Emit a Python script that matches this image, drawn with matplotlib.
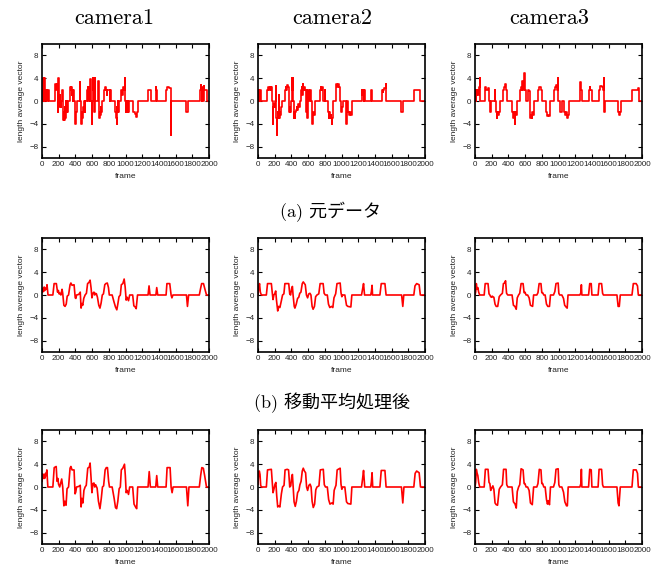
import numpy as np
import matplotlib
matplotlib.use("Agg")
import matplotlib.pyplot as plt

# 元データ (frame, length average vector)
raw_cam1 = [(0, 0), (12, 4), (20, 0), (24, 4), (30, 2), (34, 4), (40, 0), (44, 2), (52, 1), (56, 2), (62, 0), (66, 2), (80, 0),
            (150, 3), (156, 2), (160, 3), (166, 2.5), (170, 2), (176, 3), (180, 2.5), (186, -2), (190, 2), (196, 4), (200, 1),
            (206, -1), (212, 1), (218, 0), (222, -1), (228, 0), (240, 2), (246, -3.3), (252, 0), (256, -3.3), (262, -2),
            (268, -3.3), (274, -1), (280, -3), (286, 0), (290, -2), (296, 0), (300, -2), (306, 0), (340, 2.5), (346, 2),
            (352, 2.5), (358, 1), (362, 2), (370, 0), (374, 2), (386, 0), (398, -4), (404, -2), (410, -2), (416, 0),
            (455, 3.3), (460, 0), (470, -4), (476, -2), (482, -3), (488, -2), (494, -1), (500, -2), (506, 0), (515, -2),
            (520, 0), (540, 2), (548, 2.5), (556, 0), (560, 2), (566, 2.5), (572, 0), (576, 3.8), (582, 2), (590, 0),
            (596, -4), (602, 0), (608, 4), (614, 2), (620, 4), (626, -2), (630, 4), (636, 0), (672, 3.5), (678, -3),
            (684, 0), (688, -3), (694, -2), (700, -2.5), (706, -1), (712, -2), (718, -1), (724, 0), (740, 2), (760, 2.5),
            (770, 2), (778, 1), (782, 2), (800, 2), (812, 0), (818, 2), (830, 0), (870, -2), (876, 0), (880, -2), (888, -3),
            (894, -4), (900, -1), (904, -2), (910, 0), (914, -2), (920, 0), (950, 2), (960, 1), (966, 2), (976, 2.5),
            (982, 2), (990, 4), (996, 0), (1004, -2), (1010, 0), (1016, -2), (1026, 0), (1030, -2), (1036, 0),
            (1094, -2), (1110, -2.3), (1120, -2.8), (1136, -2), (1144, 0), (1272, 2), (1300, 0), (1362, 2.5), (1368, 2),
            (1380, 0), (1480, 2), (1500, 2.4), (1520, 2.2), (1540, 0), (1542, -6), (1548, 0), (1730, -2), (1754, 0),
            (1890, 2), (1900, 2.8), (1906, 2), (1914, 0), (1918, 2.5), (1926, 2), (1932, 0), (1936, 2.7), (1944, 2),
            (1960, 2), (1975, 0), (2000, 0)]
raw_cam2 = [(0, 0), (8, 2), (14, 0), (18, 2), (24, 1), (28, 2), (34, 0), (112, 2), (120, 2.5), (128, 2), (140, 2.5),
            (150, 2), (160, 2.5), (168, 0), (178, -4), (184, -1), (190, -0.5), (196, -1), (204, 0), (210, 2.7), (216, -3),
            (224, -6), (230, -3), (236, -2), (240, -3), (246, 1), (252, -3), (258, -2), (266, -2.5), (274, -2), (280, -1),
            (288, 0), (320, 2), (330, 2.5), (340, 2), (350, 2.8), (360, 2.5), (368, 1), (374, -2), (382, -1), (388, -2),
            (396, 0), (402, 4), (408, 2), (414, 4), (420, 0), (428, -3), (434, -2), (442, -3), (448, -2), (456, -1.5),
            (464, -1), (472, -1.5), (482, -0.5), (490, -1), (500, 0), (514, 2), (522, 2.5), (530, 1), (536, 3), (544, 2),
            (552, 2.5), (560, 2), (570, 0), (580, -2), (586, 2), (592, -3), (598, -2), (604, 2), (610, 0), (626, 2),
            (634, 0), (648, -4), (656, -3), (664, -2), (672, -2.5), (682, 0), (740, 2), (750, 2.5), (760, 2), (770, 2.5),
            (784, 0), (802, 2), (808, 0), (840, -2), (848, -3), (854, -2), (862, -3), (870, -2.5), (878, -3), (886, -4),
            (892, -3), (900, 0), (930, 2), (940, 3), (950, 2.5), (960, 3), (970, 2.5), (984, 0), (994, -2), (1006, -1),
            (1014, 0), (1058, -4), (1066, 0), (1082, -2), (1092, -2.5), (1104, -2), (1112, -2.5), (1122, 0), (1244, 2),
            (1250, 1), (1256, 2), (1266, 0), (1272, 2), (1284, 0), (1352, 2), (1366, 0), (1484, 2), (1492, 1.5),
            (1500, 2), (1514, 2.3), (1528, 3), (1534, 0), (1714, -2), (1740, 0), (1874, 2), (1936, 0), (2000, 0)]
raw_cam3 = [(0, 0), (4, 2), (10, 0), (14, 2), (22, 1), (28, 2), (36, 1), (42, 2), (48, 2.5), (54, 4), (60, 0),
            (116, 2), (124, 2.5), (134, 2), (150, 2.2), (168, 0), (176, -2), (196, 0), (234, 2), (240, 0), (250, -2),
            (258, -3), (266, -2), (274, -2.5), (282, -2), (298, 0), (336, 2), (346, 2.5), (356, 3), (366, 2), (378, 0),
            (446, -2), (456, -3), (466, -2), (474, -4), (480, -2), (490, -2.5), (500, -2), (508, 0), (538, 2), (548, 2.5),
            (558, 2), (566, 3.5), (576, 2), (584, 4), (592, 5), (600, 2), (612, 0), (638, 2), (650, 1.8), (660, -3),
            (670, -2.5), (678, -3), (686, -2), (696, -2.5), (708, 0), (758, 2), (770, 2.5), (780, 2.4), (790, 2),
            (800, 0), (852, -2), (862, -2.6), (876, -2.4), (890, -2.6), (902, 0), (950, 2), (960, 2.5), (970, 2.8),
            (982, 2), (990, 4), (998, 0), (1014, -2), (1042, 0), (1062, -2), (1074, -2.5), (1086, -2), (1098, -3),
            (1112, -2.5), (1124, 0), (1262, 3.4), (1268, 2), (1284, 0), (1364, 2), (1372, 2.4), (1380, 2), (1396, 0),
            (1484, 2), (1494, 2.6), (1506, 2.7), (1520, 2.4), (1534, 2), (1540, 4), (1546, -2), (1552, 0), (1718, -2),
            (1726, -2.5), (1738, -2), (1746, 0), (1886, 2), (1950, 2), (1956, 2.3), (1964, 0), (2000, 0)]

# 移動平均処理後
avg_cam1 = [(0, 0.5), (10, 1.2), (18, 0.6), (26, 1.4), (34, 0.8), (44, 1.2), (52, 1), (60, 1.8), (72, 0), (130, 0),
            (145, 2), (172, 2), (186, 0.5), (196, 0.8), (204, 0.2), (216, 0.3), (226, 0), (240, 1), (248, 0.3),
            (262, -1.8), (276, -2), (290, -1.6), (302, -0.2), (318, 0), (336, 1.8), (346, 2.1), (360, 1.7), (384, 1.8),
            (398, -0.5), (406, -0.6), (414, 0), (440, 0.1), (458, 0.5), (468, -2.3), (478, -1.5), (488, -1.8),
            (500, -0.6), (516, 0), (532, 0.3), (546, 2), (562, 2.2), (576, 2.6), (588, 1.2), (598, -0.5), (610, 0.3),
            (622, 0.5), (632, 0), (640, 0.3), (652, 0.2), (664, -0.4), (680, -1.8), (694, -2.3), (708, -1.4), (722, 0),
            (736, 0.2), (752, 1.8), (764, 2), (782, 2.1), (796, 1.3), (806, 0), (840, 0), (862, -1.2), (880, -2.1),
            (896, -2.6), (908, -1.6), (922, -0.3), (938, 0), (950, 1.8), (968, 2), (984, 2.8), (996, 1.4),
            (1008, -0.9), (1020, -0.4), (1036, -1), (1050, 0), (1086, 0), (1100, -1.9), (1116, -2.1), (1128, -2.4),
            (1144, 0), (1270, 0), (1282, 1.6), (1294, 0), (1364, 0), (1374, 1.3), (1386, 0), (1486, 0), (1496, 2),
            (1530, 2), (1546, 0), (1556, -0.5), (1568, 0), (1730, 0), (1742, -2), (1756, 0), (1884, 0), (1900, 1.2),
            (1912, 2), (1934, 2), (1948, 1.2), (1970, 0), (2000, 0)]
avg_cam2 = [(0, 0), (6, 1), (18, 2), (28, 0.5), (40, 0), (100, 0), (114, 2), (160, 2), (170, 0.5), (180, -0.8),
            (190, 0), (200, 0.2), (212, 0.7), (222, -1), (236, -2.8), (248, -2), (262, -2.2), (280, -1), (294, 0),
            (310, 0.2), (322, 2), (368, 2), (380, 0.2), (390, 0), (404, 1.2), (412, 1.5), (420, 0), (434, -2),
            (442, -2.3), (458, -1.6), (474, -0.6), (488, -0.4), (500, 0.3), (514, 0.5), (530, 2), (542, 2.3), (556, 2),
            (566, 1.8), (580, 0), (594, -0.5), (608, 0.2), (622, 0.3), (634, 0), (648, -2), (660, -2.5), (676, -2),
            (690, -0.3), (706, 0), (728, 0.2), (744, 2), (780, 2), (792, 0.3), (806, 0), (830, 0), (844, -1.6),
            (860, -2.2), (880, -2), (896, -2.2), (910, -0.5), (924, 0), (930, 0.2), (946, 2), (984, 2.1), (994, 0.4),
            (1004, -0.3), (1014, 0), (1040, 0), (1060, -1.8), (1076, -2), (1112, -2.1), (1124, 0), (1240, 0),
            (1252, 1), (1264, 2), (1276, 0), (1350, 0), (1358, 0.6), (1366, 1.7), (1372, 0), (1460, 0), (1476, 2),
            (1520, 2), (1534, 0), (1720, 0), (1734, -2), (1746, 0), (1866, 0), (1880, 1.6), (1900, 2), (1930, 1.8),
            (1944, 0), (2000, 0)]
avg_cam3 = [(0, 0), (8, 0.5), (16, 2), (24, 1), (34, 1.3), (44, 0.5), (56, 0), (110, 0), (122, 2), (156, 2),
            (168, 0.2), (178, 0), (188, -0.3), (198, -0.4), (206, -0.2), (214, -0.3), (226, -0.4), (240, -1.6),
            (254, -2), (272, -2), (290, -0.3), (306, 0), (328, 0.3), (340, 2), (354, 2.1), (366, 2.5), (378, 0.3),
            (392, 0), (444, 0), (460, -1.8), (478, -2), (494, -2.5), (506, -0.5), (522, 0), (536, 0.3), (552, 2),
            (576, 2), (588, 0.4), (598, 0.5), (612, 0), (630, 0), (648, -0.5), (664, -1.8), (690, -2), (702, 0),
            (740, 0), (754, 0.4), (768, 2), (790, 2), (800, 0.4), (810, 0.4), (824, 0), (840, 0), (856, -1.6),
            (872, -2), (892, -2), (904, 0), (940, 0), (956, 0.6), (970, 2), (996, 2.1), (1004, 0.3), (1014, 0),
            (1040, 0), (1060, -0.6), (1074, -1.8), (1096, -2.2), (1104, -2.3), (1114, 0), (1256, 0), (1268, 0.4),
            (1274, 1.8), (1280, 0), (1360, 0), (1374, 2), (1392, 2), (1400, 0), (1474, 0), (1486, 2), (1516, 2),
            (1528, 0.3), (1538, 0), (1700, 0), (1714, -2), (1728, -2), (1740, 0), (1880, 0), (1896, 2), (1930, 2),
            (1946, 1.6), (1956, 0), (2000, 0)]

# 3段目
wide_cam1 = [(0, 1), (8, 2.3), (16, 1.5), (24, 2.2), (32, 1.5), (42, 2.4), (50, 2), (58, 3), (70, 0), (130, 0),
             (146, 3.4), (170, 3.6), (180, 1), (190, 1.5), (198, 0.5), (212, 0), (236, 1.4), (248, 0), (262, -3.3),
             (274, -2.5), (288, -3.2), (300, -0.3), (318, 0), (336, 3.3), (346, 3.6), (360, 3), (384, 3), (396, -1.2),
             (404, -0.9), (414, 0), (440, 0.1), (458, 0.3), (468, -3.5), (478, -2), (490, -2.8), (502, -0.6), (516, 0),
             (530, 0.3), (548, 3.3), (566, 3.5), (576, 4.2), (588, 1.5), (598, -1), (610, 0.6), (622, 0.7), (632, 0),
             (642, 0.4), (660, -0.2), (676, -2.5), (694, -3.8), (710, -2), (724, 0), (738, 0.2), (756, 3), (770, 3.4),
             (784, 3.4), (798, 1), (808, 0), (840, 0), (864, -2), (880, -3.6), (894, -3.8), (908, -2.5), (924, -0.3),
             (938, 0), (950, 3), (968, 3.3), (988, 4), (998, 2), (1008, -1), (1020, -0.6), (1036, -1.3), (1050, 0),
             (1086, 0), (1102, -3), (1120, -3.5), (1134, -3.8), (1146, 0), (1270, 0), (1284, 2.7), (1298, 0),
             (1362, 0), (1374, 2), (1386, 0), (1486, 0), (1498, 3.4), (1534, 3.4), (1546, 0), (1558, -1), (1570, 0),
             (1730, 0), (1746, -3.3), (1760, 0), (1884, 0), (1900, 2), (1914, 3.4), (1932, 3.3), (1948, 2), (1970, 0),
             (2000, 0)]
wide_cam2 = [(0, 0.5), (8, 2.5), (16, 2.8), (24, 2.2), (32, 0.3), (40, 0), (100, 0), (114, 3), (160, 3.1), (170, 1),
             (180, -1), (192, -0.3), (204, 0.5), (214, 0.8), (224, -1.5), (236, -3.5), (246, -3.3), (262, -3.5),
             (280, -1.2), (294, 0), (312, 0.3), (324, 3), (350, 3.1), (366, 3), (380, 0), (392, 0.2), (404, 1.8),
             (412, 2.2), (422, -0.2), (432, -2.6), (446, -3.4), (460, -2.5), (474, -1), (490, -0.6), (502, 0.4),
             (516, 1), (530, 2.8), (542, 3.3), (556, 2.8), (570, 2.5), (582, 0), (594, -0.6), (610, 0.3), (624, 0.5),
             (636, 0), (648, -2.5), (662, -3.6), (678, -3), (692, -0.5), (706, 0), (730, 0.2), (746, 3), (782, 3.1),
             (794, 0.4), (808, 0), (830, 0), (846, -2.2), (862, -3), (884, -2.8), (900, -3), (912, -0.6), (926, 0),
             (934, 0.3), (948, 3), (984, 3.3), (994, 0.5), (1004, -0.4), (1016, 0), (1040, 0), (1060, -2.6),
             (1076, -2.9), (1112, -3), (1124, 0), (1240, 0), (1252, 1.4), (1264, 2.9), (1278, 0), (1350, 0),
             (1358, 0.9), (1366, 2.5), (1374, 0), (1460, 0), (1476, 2.9), (1520, 2.9), (1534, 0), (1718, 0),
             (1734, -2.8), (1748, 0), (1866, 0), (1882, 2.4), (1900, 2.8), (1930, 2.5), (1946, 0), (2000, 0)]
wide_cam3 = [(0, 0), (8, 0.8), (16, 3.1), (24, 2.5), (34, 2), (44, 0.8), (56, 0), (110, 0), (124, 3.1), (156, 3.1),
             (168, 0.8), (178, 0.6), (188, -0.6), (198, -0.3), (214, 0.2), (226, -0.4), (240, -2.8), (254, -3.1),
             (270, -3.2), (290, -0.4), (306, 0), (328, 0.4), (342, 3.1), (372, 3.1), (380, 0.4), (394, 0), (444, 0),
             (460, -2.6), (480, -3), (494, -3.7), (506, -0.8), (522, 0), (536, 0.4), (552, 3.2), (576, 3), (588, 0.6),
             (598, 0.6), (612, 0), (630, 0), (648, -0.6), (664, -2.8), (686, -3.1), (702, 0), (740, 0), (754, 0.6),
             (770, 3.1), (790, 3), (800, 0.6), (810, 0.6), (824, 0), (840, 0), (856, -2.2), (868, -3), (878, -2.4),
             (892, -3.1), (904, 0), (940, 0), (956, 0.8), (970, 3.1), (996, 3.2), (1004, 0.4), (1014, 0), (1040, 0),
             (1060, -0.9), (1076, -2.6), (1096, -3.3), (1106, -3.3), (1116, 0), (1256, 0), (1268, 0.6), (1274, 3.1),
             (1280, 0), (1360, 0), (1374, 3.1), (1392, 3), (1400, 0), (1474, 0), (1486, 3.1), (1516, 3.1),
             (1528, 0.4), (1538, 0), (1700, 0), (1714, -2.8), (1724, -3.3), (1740, 0), (1880, 0), (1896, 3),
             (1930, 3), (1946, 2.4), (1956, 0), (2000, 0)]

cameras = ["camera1", "camera2", "camera3"]
captions = ["(a) 元データ", "(b) 移動平均処理後"]
rows = [[raw_cam1, raw_cam2, raw_cam3],
        [avg_cam1, avg_cam2, avg_cam3],
        [wide_cam1, wide_cam2, wide_cam3]]
x_ticks = list(range(0, 2001, 200))
y_ticks = [-8, -4, 0, 4, 8]

W, H = 665, 570
fig = plt.figure(figsize=(W / 100, H / 100), dpi=100)

col_left = [42, 258, 475]
row_top = [44, 238, 430]
ax_w, ax_h = 167, 114

for r in range(3):
    for c in range(3):
        ax = fig.add_axes([col_left[c] / W, 1 - (row_top[r] + ax_h) / H, ax_w / W, ax_h / H])
        pts = np.array(rows[r][c], dtype=float)
        if r == 0:
            ax.plot(pts[:, 0], pts[:, 1], color="red", lw=1.2, drawstyle="steps-post")
        else:
            ax.plot(pts[:, 0], pts[:, 1], color="red", lw=1.2)
        ax.set_xlim(0, 2000)
        ax.set_ylim(-10, 10)
        ax.set_xticks(x_ticks)
        ax.set_yticks(y_ticks)
        ax.tick_params(direction="in", top=True, right=True, length=3, width=0.8,
                       labelsize=5.8, pad=2.5)
        for lab in ax.get_xticklabels() + ax.get_yticklabels():
            lab.set_family("Liberation Sans")
            lab.set_color("#222222")
        for s in ax.spines.values():
            s.set_linewidth(1.2)
        ax.set_xlabel("frame", fontsize=6, family="Liberation Sans", labelpad=3, color="#222222")
        ax.set_ylabel("length average vector", fontsize=6, family="Liberation Sans", labelpad=3,
                      color="#222222")

title_x = [114, 332, 549]
for c in range(3):
    fig.text(title_x[c] / W, 1 - 18 / H, cameras[c], ha="center", va="center",
             fontsize=16, family="cmr10")

fig.text(330 / W, 1 - 212 / H, captions[0], ha="center", va="center", fontsize=13,
         family=["cmr10", "Noto Sans CJK JP"])
fig.text(332 / W, 1 - 403 / H, captions[1], ha="center", va="center", fontsize=13,
         family=["cmr10", "Noto Sans CJK JP"])

fig.savefig("out.png", dpi=100)
